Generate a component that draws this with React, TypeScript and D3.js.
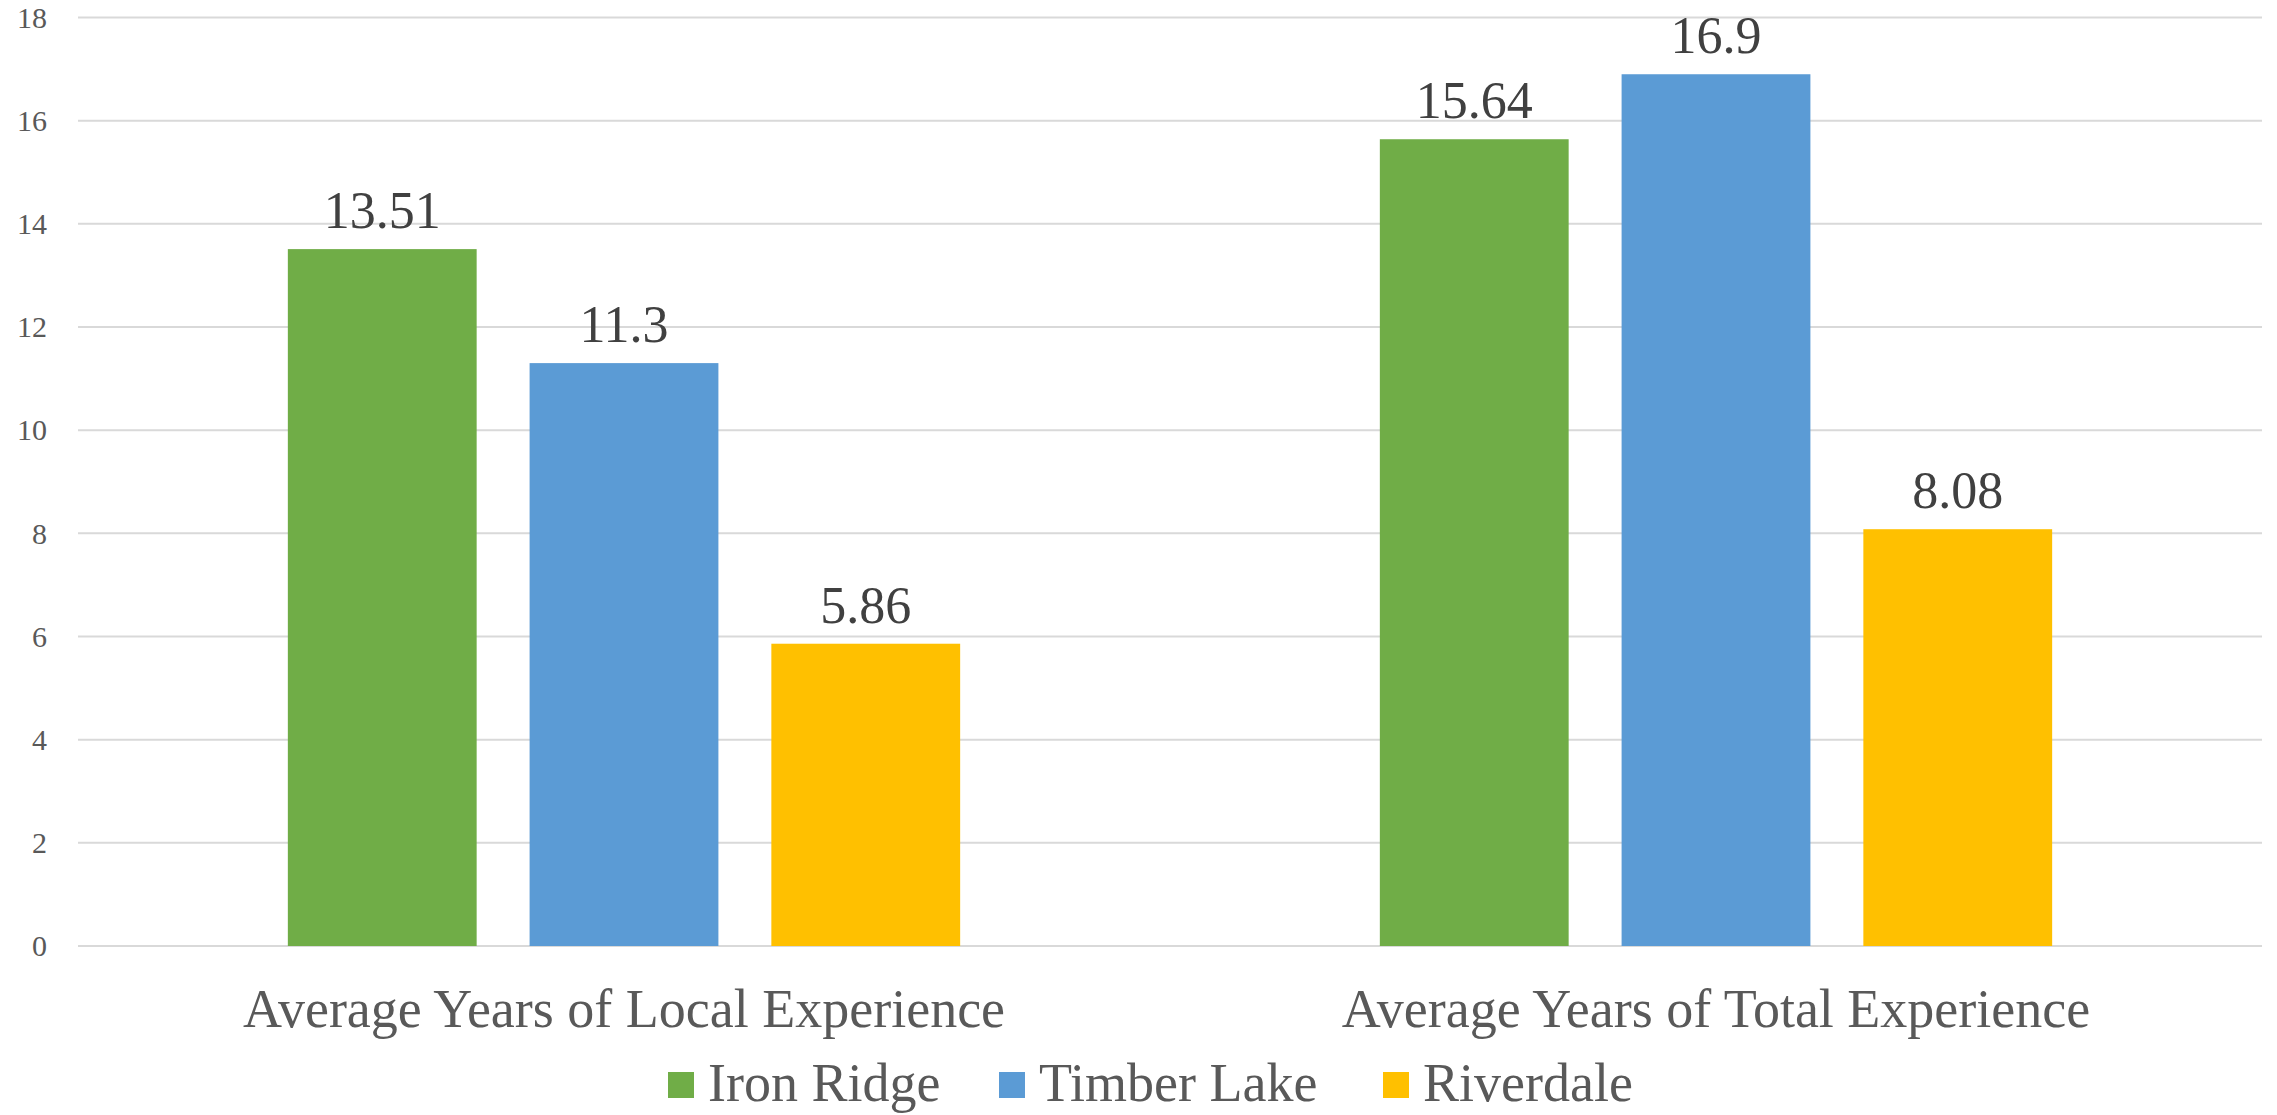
import { useEffect, useRef } from "react";
import * as d3 from "d3";

const categories = ["Average Years of Local Experience", "Average Years of Total Experience"];
const seriesNames = ["Iron Ridge", "Timber Lake", "Riverdale"];
const ironRidge = [13.51, 15.64];
const timberLake = [11.3, 16.9];
const riverdale = [5.86, 8.08];
const yTicks = [0, 2, 4, 6, 8, 10, 12, 14, 16, 18];

const colors = ["#70AD47", "#5B9BD5", "#FFC000"];
const FONT = "'Liberation Serif', 'Times New Roman', serif";

const App = () => {
  const svgRef = useRef<SVGSVGElement | null>(null);

  useEffect(() => {
    document.body.style.margin = "0";
    const width = 2277;
    const height = 1115;
    const svg = d3.select(svgRef.current);
    svg.selectAll("*").remove();
    svg.attr("width", width).attr("height", height);

    const values = [ironRidge, timberLake, riverdale];
    const plotLeft = 78;
    const plotRight = 2262;

    const x0 = d3.scaleBand<string>().domain(categories).range([plotLeft, plotRight]).padding(0);
    const x1 = d3
      .scaleBand<string>()
      .domain(seriesNames)
      .range([0, x0.bandwidth()])
      .paddingInner(0.219)
      .paddingOuter(0.868);
    const y = d3.scaleLinear().domain([0, 18]).range([946, 17.5]);

    // gridlines
    svg
      .append("g")
      .selectAll("line")
      .data(yTicks)
      .enter()
      .append("line")
      .attr("x1", plotLeft)
      .attr("x2", plotRight)
      .attr("y1", (d) => y(d))
      .attr("y2", (d) => y(d))
      .attr("stroke", "#d9d9d9")
      .attr("stroke-width", 2);

    // y tick labels
    svg
      .append("g")
      .selectAll("text")
      .data(yTicks)
      .enter()
      .append("text")
      .attr("x", 47)
      .attr("y", (d) => y(d))
      .attr("dy", "0.34em")
      .attr("text-anchor", "end")
      .style("font-family", FONT)
      .style("font-size", "30px")
      .style("fill", "#595959")
      .text((d) => d);

    // bars
    seriesNames.forEach((name, si) => {
      const g = svg.append("g");
      categories.forEach((cat, ci) => {
        const v = values[si][ci];
        const bx = (x0(cat) ?? 0) + (x1(name) ?? 0);
        g.append("rect")
          .attr("x", bx)
          .attr("y", y(v))
          .attr("width", x1.bandwidth())
          .attr("height", y(0) - y(v))
          .attr("fill", colors[si]);
        g.append("text")
          .attr("x", bx + x1.bandwidth() / 2)
          .attr("y", y(v) - 21)
          .attr("text-anchor", "middle")
          .style("font-family", FONT)
          .style("font-size", "52px")
          .style("fill", "#404040")
          .text(v);
      });
    });

    // category labels
    svg
      .append("g")
      .selectAll("text")
      .data(categories)
      .enter()
      .append("text")
      .attr("x", (d) => (x0(d) ?? 0) + x0.bandwidth() / 2)
      .attr("y", 1027)
      .attr("text-anchor", "middle")
      .style("font-family", FONT)
      .style("font-size", "54px")
      .style("fill", "#595959")
      .text((d) => d);

    // legend
    const legendX = [668, 999, 1383];
    const legend = svg.append("g");
    seriesNames.forEach((name, i) => {
      legend
        .append("rect")
        .attr("x", legendX[i])
        .attr("y", 1072)
        .attr("width", 26)
        .attr("height", 26)
        .attr("fill", colors[i]);
      legend
        .append("text")
        .attr("x", legendX[i] + 40)
        .attr("y", 1101)
        .style("font-family", FONT)
        .style("font-size", "54px")
        .style("fill", "#595959")
        .text(name);
    });
  }, []);

  return <svg ref={svgRef} style={{ display: "block" }} />;
};

export default App;
